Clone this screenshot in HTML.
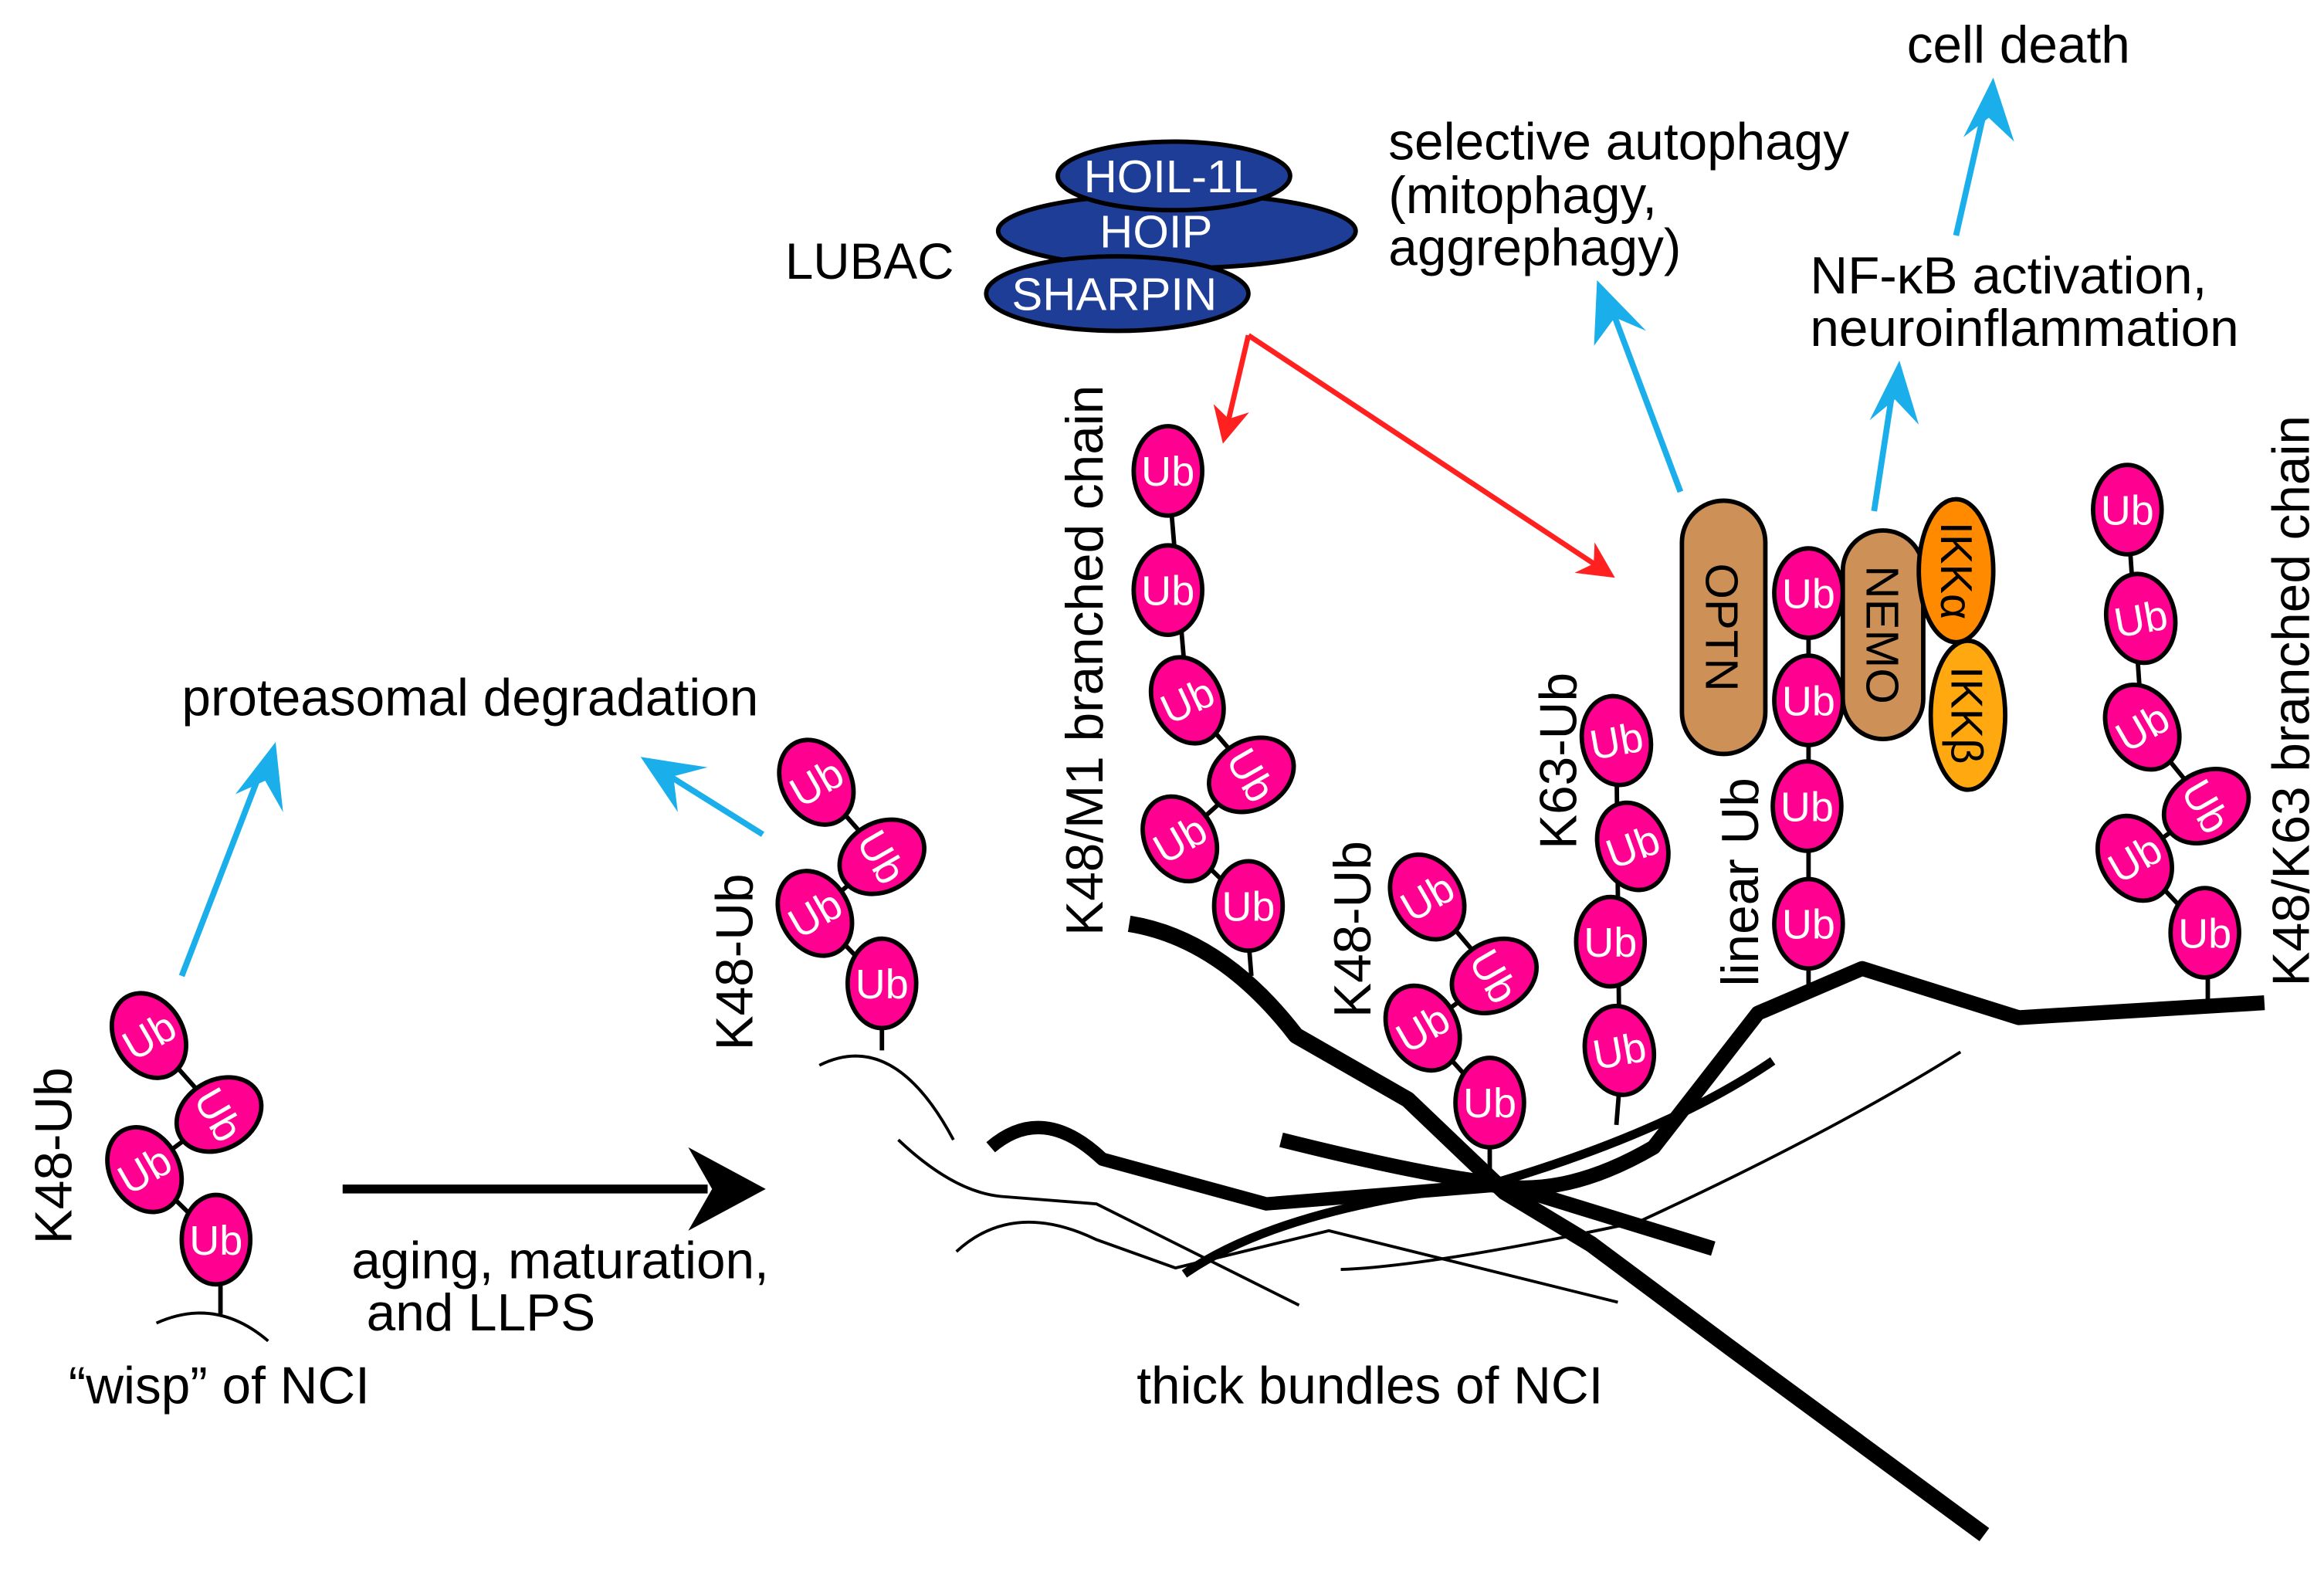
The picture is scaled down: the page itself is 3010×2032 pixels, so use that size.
<!DOCTYPE html>
<html><head><meta charset="utf-8"><style>html,body{margin:0;padding:0;background:#fff}svg{display:block}</style></head>
<body>
<svg width="3010" height="2032" viewBox="0 0 1560 1053" xmlns="http://www.w3.org/2000/svg" font-family="Liberation Sans, Arial, sans-serif">
<defs>
<g id="ub"><ellipse cx="0" cy="0" rx="23" ry="30" fill="#ff0090" stroke="#000" stroke-width="3"/><text x="0" y="10" font-size="28" fill="#fff" text-anchor="middle">Ub</text></g>
<marker id="ar" viewBox="0 0 10 10" refX="8" refY="5" markerWidth="7" markerHeight="7" orient="auto"><path d="M0,0 L10,5 L0,10 L3,5 z" fill="#ff2020"/></marker>
</defs>
<rect width="1560" height="1053" fill="#fff"/>

<g fill="none" stroke="#000" stroke-width="2">
<path d="M105,888 Q145,870 180,900"/>
<path d="M550,715 Q600,690 640,765"/>
<path d="M603,765 Q640,800 672,803 L736,808 L872,876"/>
<path d="M642,840 Q680,805 736,832 L789,851 L892,826 L1086,874"/>
<path d="M900,852 Q960,850 1100,820 Q1230,760 1316,706"/>
</g>
<g fill="none" stroke="#000" stroke-linecap="butt" stroke-linejoin="round">
<path d="M758,620 Q820,630 870,695 L945,738 L1010,800 L1068,835 L1162,905 L1332,1030" stroke-width="11"/>
<path d="M1520,673 L1355,683 L1250,650 L1180,680 L1110,770 Q1050,805 1000,795" stroke-width="10"/>
<path d="M860,765 Q960,790 1010,795 L1150,838" stroke-width="10"/>
<path d="M665,770 Q700,740 740,778 L850,808 L1010,795" stroke-width="9"/>
<path d="M795,855 Q860,810 1000,795 Q1120,760 1190,712" stroke-width="6"/>
</g>

<g stroke="#1aaeea" stroke-width="4" fill="none">
<line x1="122" y1="655" x2="176" y2="515"/>
<line x1="512" y1="560" x2="445" y2="518"/>
<line x1="1128" y1="330" x2="1081" y2="205"/>
<line x1="1258" y1="343" x2="1271" y2="258"/>
<line x1="1313" y1="158" x2="1333" y2="70"/>
</g>
<g fill="#1aaeea">
<path d="M185,498 L190,545 L178,524 L158,533 z"/>
<path d="M430,508 L475,515 L452,521 L455,545 z"/>
<path d="M1072,188 L1105,222 L1084,213 L1070,232 z"/>
<path d="M1275,242 L1288,285 L1272,268 L1255,282 z"/>
<path d="M1338,52 L1352,95 L1335,79 L1318,92 z"/>
</g>
<g stroke="#ff2020" stroke-width="3.5" fill="none" marker-end="url(#ar)">
<polyline points="838,225 822,293"/>
<polyline points="838,225 1080,385"/>
</g>
<line x1="230" y1="798" x2="475" y2="798" stroke="#000" stroke-width="6"/>
<path d="M514,798 L462,770 L478,798 L462,826 z" fill="#000"/>

<g stroke="#000" stroke-width="3">
<line x1="148" y1="857" x2="148" y2="882"/>
<line x1="100" y1="695" x2="147" y2="748"/><line x1="147" y1="748" x2="97" y2="785"/><line x1="97" y1="785" x2="145" y2="832"/>
<line x1="548" y1="525" x2="592" y2="575"/><line x1="592" y1="575" x2="547" y2="613"/><line x1="547" y1="613" x2="592" y2="660"/><line x1="592" y1="685" x2="592" y2="705"/>
<line x1="784" y1="316" x2="797" y2="470"/><line x1="797" y1="470" x2="840" y2="520"/><line x1="840" y1="520" x2="792" y2="563"/><line x1="792" y1="563" x2="838" y2="608"/><line x1="838" y1="630" x2="840" y2="655"/>
<line x1="958" y1="602" x2="1003" y2="655"/><line x1="1003" y1="655" x2="955" y2="690"/><line x1="955" y1="690" x2="1000" y2="740"/><line x1="1000" y1="765" x2="1000" y2="785"/>
<line x1="1085" y1="497" x2="1087" y2="705"/><line x1="1087" y1="730" x2="1085" y2="755"/>
<line x1="1214" y1="398" x2="1214" y2="620"/><line x1="1214" y1="645" x2="1214" y2="662"/>
<line x1="1428" y1="342" x2="1438" y2="488"/><line x1="1438" y1="488" x2="1481" y2="541"/><line x1="1481" y1="541" x2="1433" y2="576"/><line x1="1433" y1="576" x2="1480" y2="626"/><line x1="1482" y1="652" x2="1482" y2="672"/>
</g>

<use href="#ub" transform="translate(100,695) rotate(-30)"/>
<use href="#ub" transform="translate(147,748) rotate(60)"/>
<use href="#ub" transform="translate(97,785) rotate(-30)"/>
<use href="#ub" transform="translate(145,832)"/>

<use href="#ub" transform="translate(548,525) rotate(-30)"/>
<use href="#ub" transform="translate(592,575) rotate(60)"/>
<use href="#ub" transform="translate(547,613) rotate(-30)"/>
<use href="#ub" transform="translate(592,660)"/>

<use href="#ub" transform="translate(784,316)"/>
<use href="#ub" transform="translate(784,396)"/>
<use href="#ub" transform="translate(797,470) rotate(-25)"/>
<use href="#ub" transform="translate(840,520) rotate(60)"/>
<use href="#ub" transform="translate(792,563) rotate(-30)"/>
<use href="#ub" transform="translate(838,608)"/>

<use href="#ub" transform="translate(958,602) rotate(-30)"/>
<use href="#ub" transform="translate(1003,655) rotate(60)"/>
<use href="#ub" transform="translate(955,690) rotate(-30)"/>
<use href="#ub" transform="translate(1000,740)"/>

<use href="#ub" transform="translate(1085,497) rotate(-10)"/>
<use href="#ub" transform="translate(1096,568) rotate(-20)"/>
<use href="#ub" transform="translate(1081,632)"/>
<use href="#ub" transform="translate(1087,705) rotate(-10)"/>

<use href="#ub" transform="translate(1214,398)"/>
<use href="#ub" transform="translate(1214,470)"/>
<use href="#ub" transform="translate(1213,541)"/>
<use href="#ub" transform="translate(1214,620)"/>

<use href="#ub" transform="translate(1428,342)"/>
<use href="#ub" transform="translate(1437,415) rotate(-10)"/>
<use href="#ub" transform="translate(1438,488) rotate(-30)"/>
<use href="#ub" transform="translate(1481,541) rotate(60)"/>
<use href="#ub" transform="translate(1433,576) rotate(-30)"/>
<use href="#ub" transform="translate(1480,626)"/>

<rect x="1129" y="336" width="56" height="170" rx="28" fill="#cd9158" stroke="#000" stroke-width="3"/>
<text transform="translate(1145,421) rotate(90)" font-size="31" text-anchor="middle">OPTN</text>
<rect x="1237" y="356" width="54" height="140" rx="27" fill="#cd9158" stroke="#000" stroke-width="3"/>
<text transform="translate(1253,426) rotate(90)" font-size="31" text-anchor="middle">NEMO</text>
<ellipse cx="1313" cy="383" rx="25" ry="48" fill="#ff8a00" stroke="#000" stroke-width="3"/>
<text transform="translate(1303,383) rotate(90)" font-size="30" text-anchor="middle">IKKα</text>
<ellipse cx="1321" cy="480" rx="25" ry="50" fill="#ffa810" stroke="#000" stroke-width="3"/>
<text transform="translate(1310,480) rotate(90)" font-size="30" text-anchor="middle">IKKβ</text>

<ellipse cx="790" cy="155" rx="120" ry="25" fill="#1e3d96" stroke="#000" stroke-width="3"/>
<ellipse cx="788" cy="118" rx="78" ry="23" fill="#1e3d96" stroke="#000" stroke-width="3"/>
<text x="786" y="129" font-size="31" fill="#fff" text-anchor="middle">HOIL-1L</text>
<text x="776" y="166" font-size="31" fill="#fff" text-anchor="middle">HOIP</text>
<ellipse cx="750" cy="197" rx="88" ry="25" fill="#1e3d96" stroke="#000" stroke-width="3"/>
<text x="748" y="208" font-size="31" fill="#fff" text-anchor="middle">SHARPIN</text>
<text x="527" y="187" font-size="34">LUBAC</text>

<g font-size="35" fill="#000">
<text x="1280" y="42">cell death</text>
<text x="932" y="107">selective autophagy</text>
<text x="932" y="143">(mitophagy,</text>
<text x="932" y="178">aggrephagy)</text>
<text x="1215" y="197">NF-κB activation,</text>
<text x="1215" y="232">neuroinflammation</text>
<text x="122" y="480">proteasomal degradation</text>
<text x="236" y="858">aging, maturation,</text>
<text x="246" y="893">and LLPS</text>
<text x="46" y="942">“wisp” of NCI</text>
<text x="763" y="942">thick bundles of NCI</text>
<text transform="translate(48,835) rotate(-90)">K48-Ub</text>
<text transform="translate(505,705) rotate(-90)">K48-Ub</text>
<text transform="translate(740,628) rotate(-90)">K48/M1 branched chain</text>
<text transform="translate(920,683) rotate(-90)">K48-Ub</text>
<text transform="translate(1058,570) rotate(-90)">K63-Ub</text>
<text transform="translate(1180,662) rotate(-90)">linear Ub</text>
<text transform="translate(1550,662) rotate(-90)">K48/K63 branched chain</text>
</g>
</svg>
</body></html>
